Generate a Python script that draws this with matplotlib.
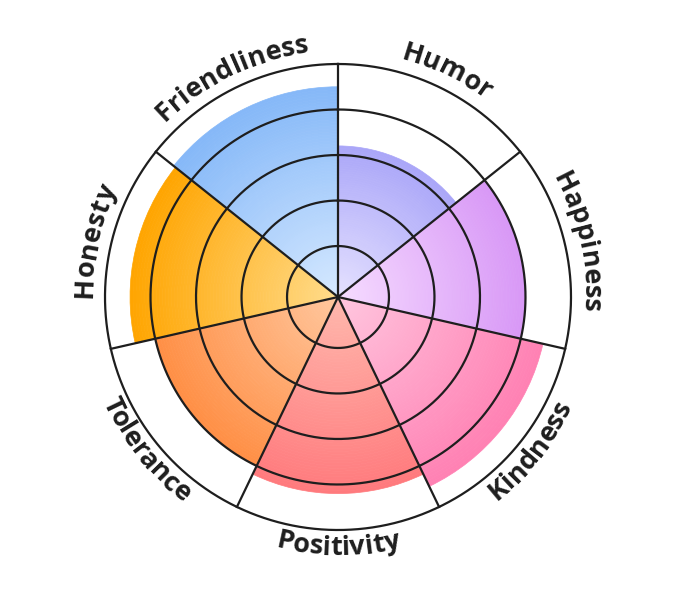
import numpy as np
import matplotlib
matplotlib.use("Agg")
import matplotlib.pyplot as plt
from matplotlib.colors import to_rgb
from matplotlib.textpath import TextToPath
from matplotlib.font_manager import FontProperties

# data, clockwise from 12 o'clock
labels = ["Humor", "Happiness", "Kindness", "Positivity", "Tolerance", "Honesty", "Friendliness"]
values = [3.2, 4.0, 4.5, 4.2, 4.0, 4.45, 4.5]
inner_colors = ["#e6e2ff", "#f6dcff", "#ffc6df", "#ffb8ad", "#ffc79e", "#ffdc8c", "#d6e9ff"]
outer_colors = ["#aaa6f8", "#d898f6", "#ff80b3", "#ff7a7d", "#ff8f45", "#ffa500", "#85b8f8"]
rings = [1, 2, 3, 4, 5]

R0 = -0.12      # value at the centre
RMAX = 5.0
LINE = "#1e1e1e"
TEXT = "#1e1e1e"

fig = plt.figure(figsize=(6.8, 5.98), dpi=100)
# outer circle radius 233 px, centre at (338, 297) from top-left
ax = fig.add_axes([(338 - 233) / 680, (598 - 297 - 233) / 598, 466 / 680, 466 / 598],
                  projection="polar")
ax.set_theta_zero_location("N")
ax.set_theta_direction(-1)
ax.set_ylim(R0, RMAX)
ax.set_xticks([])
ax.set_yticks([])
ax.grid(False)
ax.spines["polar"].set_visible(False)
ax.patch.set_alpha(0)

n = len(labels)
width = 2 * np.pi / n
edges = np.arange(n + 1) * width

# sectors with radial gradient: stacked thin annular bars
steps = 70
for i in range(n):
    c0 = np.array(to_rgb(inner_colors[i]))
    c1 = np.array(to_rgb(outer_colors[i]))
    rr = np.linspace(R0, values[i], steps + 1)
    for k in range(steps):
        t = (k + 0.5) / steps
        col = c0 + (c1 - c0) * t
        ax.bar(edges[i] + width / 2, rr[k + 1] - rr[k], width=width, bottom=rr[k],
               color=col, edgecolor=col, linewidth=0.5, zorder=1)

# grid rings and spokes
circ = np.linspace(0, 2 * np.pi, 400)
for r in rings:
    ax.plot(circ, np.full_like(circ, r), color=LINE, lw=1.6, zorder=3, clip_on=False)
for e in edges[:-1]:
    ax.plot([e, e], [R0, RMAX], color=LINE, lw=1.6, zorder=3, clip_on=False)

# curved labels
px_per_unit = 233 / (RMAX - R0)
fsize = 19.5
prop = FontProperties(family=["Open Sans", "DejaVu Sans"], weight="bold", size=fsize)
t2p = TextToPath()
pt2px = fig.dpi / 72


def text_width(s):
    if not s:
        return 0.0
    w, h, d = t2p.get_text_width_height_descent(s, prop, ismath=False)
    return w * pt2px


for i, lab in enumerate(labels):
    mid = edges[i] + width / 2
    bottom = np.pi / 2 < mid < 3 * np.pi / 2
    r_px = 258 if bottom else 246
    r_data = r_px / px_per_unit + R0
    total = text_width(lab)
    for k, ch in enumerate(lab):
        a = text_width(lab[:k])
        b = text_width(lab[:k + 1])
        s = 0.5 * (a + b) - total / 2
        if bottom:
            phi = mid - s / r_px
            rot = 180 - np.degrees(phi)
        else:
            phi = mid + s / r_px
            rot = -np.degrees(phi)
        ax.text(phi, r_data, ch, fontproperties=prop, color=TEXT, rotation=rot,
                rotation_mode="anchor", ha="center", va="baseline", clip_on=False)

fig.savefig("out.png", dpi=100, facecolor="white")
